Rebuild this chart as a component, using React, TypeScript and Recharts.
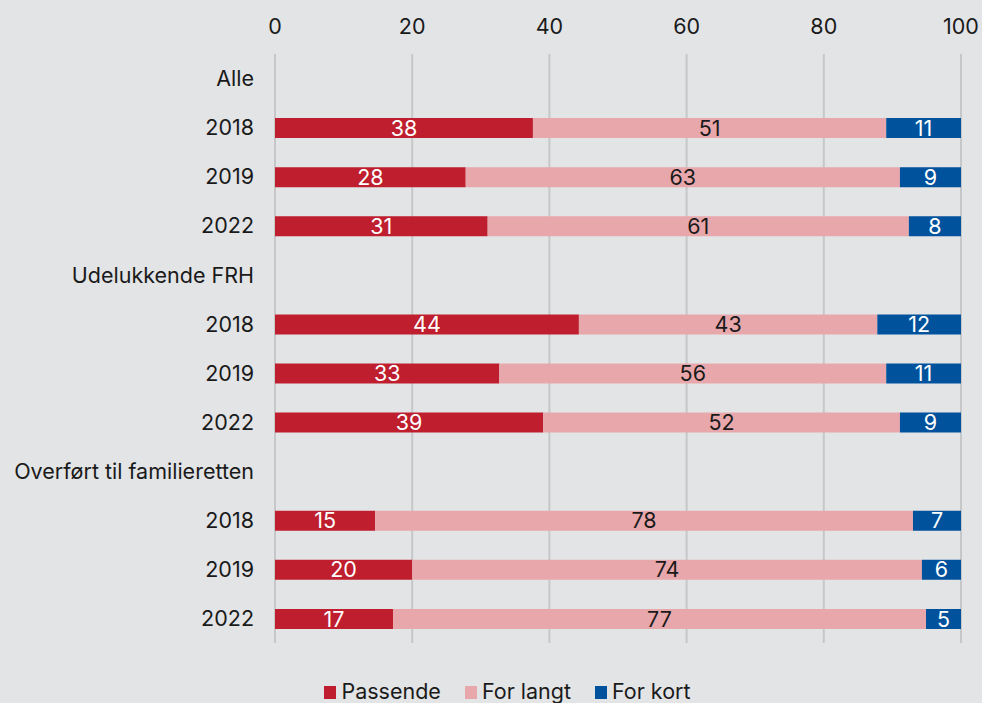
import React from 'react';
import {
  BarChart, Bar, XAxis, YAxis, CartesianGrid, LabelList, Legend,
} from 'recharts';

const CATEGORIES = [
  'Alle', '2018', '2019', '2022',
  'Udelukkende FRH', '2018', '2019', '2022',
  'Overført til familieretten', '2018', '2019', '2022',
];

// bar lengths (labels are the printed, rounded numbers)
const PASSENDE = [null, 37.6, 27.8, 31.0, null, 44.3, 32.7, 39.1, null, 14.6, 20.0, 17.2];
const FOR_LANGT = [null, 51.5, 63.3, 61.4, null, 43.5, 56.4, 52.0, null, 78.4, 74.3, 77.7];
const FOR_KORT = [null, 10.9, 8.9, 7.6, null, 12.2, 10.9, 8.9, null, 7.0, 5.7, 5.1];

const PASSENDE_LABELS = [null, 38, 28, 31, null, 44, 33, 39, null, 15, 20, 17];
const FOR_LANGT_LABELS = [null, 51, 63, 61, null, 43, 56, 52, null, 78, 74, 77];
const FOR_KORT_LABELS = [null, 11, 9, 8, null, 12, 11, 9, null, 7, 6, 5];

const X_TICKS = [0, 20, 40, 60, 80, 100];

const SERIES = [
  { key: 'passende', label: 'lPassende', name: 'Passende', color: '#be1e2d', text: '#ffffff' },
  { key: 'forLangt', label: 'lForLangt', name: 'For langt', color: '#e8a7ab', text: '#1a1a1a' },
  { key: 'forKort', label: 'lForKort', name: 'For kort', color: '#00529c', text: '#ffffff' },
];

const data = CATEGORIES.map((cat, i) => ({
  id: i,
  cat,
  passende: PASSENDE[i],
  forLangt: FOR_LANGT[i],
  forKort: FOR_KORT[i],
  lPassende: PASSENDE_LABELS[i],
  lForLangt: FOR_LANGT_LABELS[i],
  lForKort: FOR_KORT_LABELS[i],
}));

const FONT = 'Inter, "Noto Sans", sans-serif';
const FS = 21.5;

function LegendContent() {
  return (
    <div style={{ display: 'flex', justifyContent: 'center', gap: 24, fontFamily: FONT, fontSize: FS, lineHeight: '24px', color: '#1a1a1a', paddingLeft: 54 }}>
      {SERIES.map((s) => (
        <span key={s.key} style={{ display: 'inline-flex', alignItems: 'center' }}>
          <span style={{ width: 12, height: 13, background: s.color, display: 'inline-block', marginRight: 5, marginTop: 3 }} />
          {s.name}
        </span>
      ))}
    </div>
  );
}

export default function App() {
  return (
    <div style={{ position: 'absolute', left: 0, top: 0, width: 982, height: 703, background: '#e3e4e6' }}>
      <BarChart
        width={982}
        height={703}
        data={data}
        layout="vertical"
        margin={{ top: 0, right: 21, bottom: 36, left: 0 }}
        barSize={20}
      >
        <CartesianGrid horizontal={false} stroke="#c6c7c9" strokeWidth={2} />
        <XAxis
          type="number"
          orientation="top"
          domain={[0, 100]}
          ticks={X_TICKS}
          axisLine={false}
          tickLine={false}
          tickSize={0}
          tickMargin={20}
          height={54}
          tick={{ fill: '#1a1a1a', fontSize: FS, fontFamily: FONT }}
        />
        <YAxis
          type="category"
          dataKey="id"
          width={275}
          axisLine={false}
          tickLine={false}
          tickSize={0}
          tickMargin={21}
          interval={0}
          tickFormatter={(v) => CATEGORIES[v as number]}
          tick={{ fill: '#1a1a1a', fontSize: FS, fontFamily: FONT }}
        />
        <Legend verticalAlign="bottom" content={<LegendContent />} wrapperStyle={{ bottom: 0, height: 24 }} />
        {SERIES.map((s) => (
          <Bar key={s.key} dataKey={s.key} name={s.name} stackId="a" fill={s.color} isAnimationActive={false}>
            <LabelList
              dataKey={s.label}
              position="center"
              fill={s.text}
              style={{ fontSize: FS, fontFamily: FONT }}
            />
          </Bar>
        ))}
      </BarChart>
    </div>
  );
}
